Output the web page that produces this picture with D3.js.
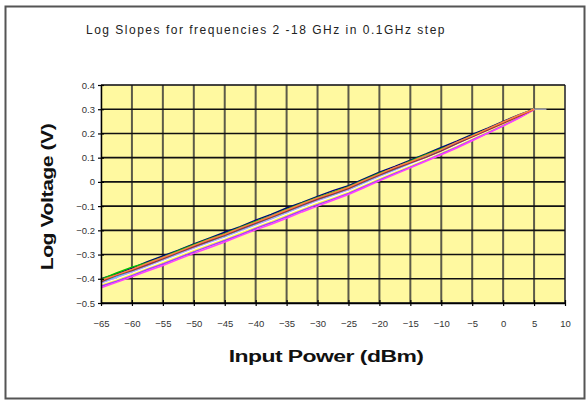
<!DOCTYPE html>
<html>
<head>
<meta charset="utf-8">
<script src="https://cdn.jsdelivr.net/npm/d3@7"></script>
<style>
    body { margin: 0; background: #fff; }
    svg text { font-family: Arial, "Liberation Sans", sans-serif; }
</style>
</head>
<body>
<svg id="chart" width="588" height="401"></svg>
<script>
//
// ***********************************************************************************
//                      DATA
//
// ***********************************************************************************
//

const TITLE = "Log Slopes for frequencies 2 -18 GHz in 0.1GHz step";
const X_LABEL = "Input Power (dBm)";
const Y_LABEL = "Log Voltage (V)";

const xTicks = [-65, -60, -55, -50, -45, -40, -35, -30, -25, -20, -15, -10, -5, 0, 5, 10];
const yTicks = [0.4, 0.3, 0.2, 0.1, 0, -0.1, -0.2, -0.3, -0.4, -0.5];

// Input power points shared by the sweep curves.
const power = [-65, -62.5, -60, -57.5, -55, -52.5, -50, -47.5, -45, -42.5, -40, -37.5, -35, -32.5, -30,
    -27.5, -25, -22.5, -20, -17.5, -15, -12.5, -10, -7.5, -5, -2.5, 0, 2.5, 5];

// A sample of the frequency sweeps (log output in volts).
const seriesNames = ["2.0", "3.6", "5.2", "6.8", "8.4", "10.0", "11.6", "13.2", "14.8", "16.4", "18.0"];
const seriesColors = ["#000080", "#00c000", "#3050ff", "#00e0ff", "#b0a0ff", "#ffffff", "#ffff40", "#a040ff", "#ff40ff", "#a03030", "#ff8040"];
const seriesValues = [
    [-0.400, -0.380, -0.356, -0.330, -0.306, -0.282, -0.256, -0.232, -0.208, -0.185, -0.158, -0.134, -0.108, -0.085, -0.060,
        -0.036, -0.016, 0.012, 0.040, 0.064, 0.090, 0.115, 0.142, 0.168, 0.196, 0.222, 0.250, 0.276, 0.300],
    [-0.403, -0.376, -0.352, -0.334, -0.311, -0.284, -0.259, -0.236, -0.214, -0.188, -0.163, -0.140, -0.114, -0.088, -0.064,
        -0.043, -0.020, 0.008, 0.036, 0.058, 0.086, 0.112, 0.137, 0.162, 0.192, 0.218, 0.246, 0.272, 0.300],
    [-0.410, -0.388, -0.364, -0.338, -0.313, -0.290, -0.264, -0.240, -0.218, -0.192, -0.168, -0.141, -0.118, -0.092, -0.069,
        -0.047, -0.024, 0.004, 0.031, 0.056, 0.081, 0.107, 0.132, 0.160, 0.189, 0.216, 0.244, 0.274, 0.300],
    [-0.414, -0.392, -0.369, -0.345, -0.320, -0.296, -0.270, -0.246, -0.223, -0.199, -0.174, -0.148, -0.124, -0.099, -0.074,
        -0.052, -0.030, -0.002, 0.026, 0.051, 0.077, 0.104, 0.129, 0.156, 0.186, 0.212, 0.241, 0.270, 0.300],
    [-0.419, -0.396, -0.373, -0.349, -0.324, -0.300, -0.274, -0.252, -0.229, -0.204, -0.179, -0.154, -0.129, -0.103, -0.079,
        -0.058, -0.034, -0.007, 0.021, 0.046, 0.072, 0.099, 0.125, 0.152, 0.181, 0.210, 0.239, 0.268, 0.300],
    [-0.424, -0.402, -0.379, -0.354, -0.330, -0.305, -0.280, -0.256, -0.234, -0.209, -0.184, -0.160, -0.134, -0.109, -0.084,
        -0.062, -0.040, -0.012, 0.016, 0.042, 0.069, 0.095, 0.121, 0.150, 0.179, 0.207, 0.236, 0.266, 0.300],
    [-0.427, -0.406, -0.382, -0.358, -0.334, -0.309, -0.284, -0.260, -0.238, -0.212, -0.188, -0.164, -0.139, -0.114, -0.089,
        -0.067, -0.044, -0.016, 0.012, 0.039, 0.065, 0.091, 0.118, 0.146, 0.176, 0.205, 0.235, 0.266, 0.300],
    [-0.431, -0.410, -0.387, -0.362, -0.339, -0.314, -0.289, -0.265, -0.242, -0.218, -0.192, -0.169, -0.144, -0.118, -0.094,
        -0.071, -0.048, -0.020, 0.008, 0.035, 0.061, 0.088, 0.115, 0.143, 0.173, 0.202, 0.232, 0.264, 0.298],
    [-0.437, -0.415, -0.392, -0.368, -0.345, -0.320, -0.295, -0.272, -0.248, -0.223, -0.198, -0.175, -0.150, -0.124, -0.100,
        -0.076, -0.052, -0.024, 0.004, 0.031, 0.058, 0.085, 0.112, 0.140, 0.170, 0.200, 0.230, 0.262, 0.298],
    [-0.412, -0.386, -0.366, -0.342, -0.318, -0.292, -0.268, -0.244, -0.221, -0.196, -0.171, -0.146, -0.121, -0.096, -0.072,
        -0.050, -0.027, 0.001, 0.028, 0.054, 0.079, 0.101, 0.128, 0.158, 0.186, 0.214, 0.242, 0.271, 0.300],
    [-0.406, -0.384, -0.361, -0.336, -0.312, -0.288, -0.262, -0.238, -0.216, -0.190, -0.166, -0.142, -0.116, -0.090, -0.066,
        -0.045, -0.022, 0.006, 0.033, 0.060, 0.083, 0.109, 0.134, 0.164, 0.190, 0.219, 0.247, 0.275, 0.300]
];

// Saturation tail at the top end.
const tailPower = [5, 7];
const tailValues = [0.300, 0.300];

//
// ***********************************************************************************
//                      CHART
//
// ***********************************************************************************
//

const svg = d3.select("#chart");
const margin = { top: 85, right: 23, bottom: 98, left: 101 };
const width = 588 - margin.left - margin.right;
const height = 401 - margin.top - margin.bottom;

// Outer frame.
svg.append("rect")
    .attr("x", 5.5).attr("y", 6.5)
    .attr("width", 579).attr("height", 392)
    .attr("fill", "#fff")
    .attr("stroke", "#555")
    .attr("stroke-width", 2);

svg.append("text")
    .attr("x", 86).attr("y", 34)
    .attr("font-size", 12)
    .attr("letter-spacing", 1.5)
    .attr("fill", "#222")
    .text(TITLE);

const x = d3.scaleLinear().domain([-65, 10]).range([0, width]);
const y = d3.scaleLinear().domain([-0.5, 0.4]).range([height, 0]);

const chart = svg.append("g")
    .attr("transform", `translate(${margin.left},${margin.top})`);

// Plot area.
chart.append("rect")
    .attr("width", width).attr("height", height)
    .attr("fill", "#fff9a0")
    .attr("stroke", "#c8c8c8");

// Vertical grid.
chart.append("g")
    .selectAll("line")
    .data(xTicks.slice(1))
    .join("line")
    .attr("x1", d => x(d)).attr("x2", d => x(d))
    .attr("y1", 0).attr("y2", height)
    .attr("stroke", "#333")
    .attr("stroke-opacity", 0.8)
    .attr("stroke-width", 2);

// Horizontal grid.
chart.append("g")
    .selectAll("line")
    .data(yTicks)
    .join("line")
    .attr("x1", 0).attr("x2", width)
    .attr("y1", d => y(d)).attr("y2", d => y(d))
    .attr("stroke", "#111")
    .attr("stroke-width", 1.6);

// Curves.
const line = d3.line()
    .x(d => x(d[0]))
    .y(d => y(d[1]));

chart.append("path")
    .datum(tailPower.map((p, i) => [p, tailValues[i]]))
    .attr("d", line)
    .attr("fill", "none")
    .attr("stroke", "#a0a0b0")
    .attr("stroke-width", 1.5);

chart.append("g")
    .selectAll("path")
    .data(seriesValues)
    .join("path")
    .attr("d", vals => line(power.map((p, i) => [p, vals[i]])))
    .attr("fill", "none")
    .attr("stroke", (d, i) => seriesColors[i])
    .attr("stroke-width", 1.5);

// Axes.
const xAxis = chart.append("g")
    .attr("transform", `translate(0,${height})`)
    .call(d3.axisBottom(x).tickValues(xTicks).tickSizeInner(3).tickSizeOuter(0).tickPadding(14));
xAxis.selectAll(".tick line").attr("y1", -3).attr("stroke-width", 1.2);
xAxis.select(".domain").attr("stroke-width", 1.5);

const yAxis = chart.append("g")
    .call(d3.axisLeft(y).tickValues(yTicks).tickSizeInner(3).tickSizeOuter(0).tickPadding(3)
        .tickFormat(d => d === 0 ? "0" : d3.format(".1f")(d)));
yAxis.selectAll(".tick line").attr("x1", 3).attr("stroke-width", 1.2);
yAxis.select(".domain").attr("stroke-width", 1.5);

svg.selectAll(".tick text")
    .attr("font-size", 9.5)
    .attr("fill", "#333");

// Axis titles, drawn wide like the original.
svg.append("text")
    .attr("transform", "translate(326,362) scale(1.35,1)")
    .attr("text-anchor", "middle")
    .attr("font-size", 17)
    .attr("font-weight", "bold")
    .attr("letter-spacing", -0.4)
    .attr("fill", "#111")
    .text(X_LABEL);

svg.append("text")
    .attr("transform", "translate(53,197) rotate(-90) scale(1.25,1)")
    .attr("text-anchor", "middle")
    .attr("font-size", 17)
    .attr("font-weight", "bold")
    .attr("letter-spacing", -0.4)
    .attr("fill", "#111")
    .text(Y_LABEL);
</script>
</body>
</html>
